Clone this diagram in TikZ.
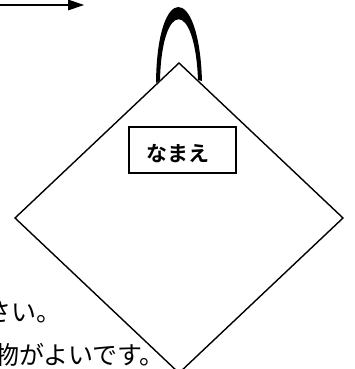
\documentclass[tikz,border=0pt]{standalone}
\usepackage{fontspec}
\newfontfamily\jpfont{Noto Sans CJK JP}
\newfontfamily\jpbold{Noto Sans CJK JP Bold}
\begin{document}
\begin{tikzpicture}[x=1pt,y=-1pt,
  edge/.style={line width=1.4pt,line join=miter},
  bodytext/.style={font=\jpfont\fontsize{25}{25}\selectfont,inner sep=0pt,anchor=base east},
  namebox/.style={draw,line width=1.3pt,minimum width=107pt,minimum height=46pt,inner sep=0pt}]
\useasboundingbox (0,0) rectangle (355,369);
% arrow
\coordinate (a1) at (0,5);
\coordinate (a2) at (70,5);
\coordinate (at) at (84,5);
\draw[line width=2pt] (a1) -- (a2);
\fill (68,-0.5) -- (at) -- (68,10.5) -- cycle;
% diamond
\coordinate (dt) at (179,63);
\coordinate (dr) at (343,218);
\coordinate (db) at (179,373);
\coordinate (dl) at (15,218);
\draw[edge] (dt) -- (dr) -- (db) -- (dl) -- cycle;
% hanger
\fill (156,83) .. controls (157,-18) and (199,-18) .. (202,81)
  -- (198,80) .. controls (195,-1) and (162,-1) .. (160,80) -- cycle;
% name box
\node[namebox] (box) at (182.5,150) {};
\node[font=\jpbold\fontsize{21}{21}\selectfont,inner sep=0pt] (name) at (178,154) {なまえ};
% text
\node[bodytext] (l1) at (62,321) {さい。};
\node[bodytext] (l2) at (165,364) {物がよいです。};
\end{tikzpicture}
\end{document}
